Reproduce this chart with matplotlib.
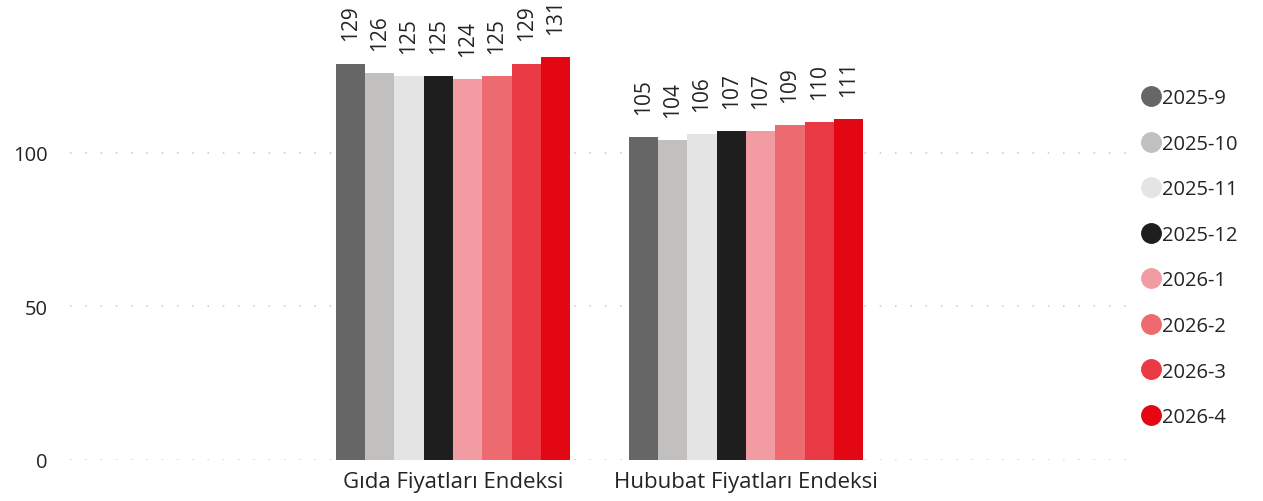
import matplotlib
matplotlib.use("Agg")
import matplotlib.pyplot as plt
from matplotlib.lines import Line2D
import numpy as np

plt.rcParams['font.family'] = ['Open Sans', 'DejaVu Sans']

categories = ["Gıda Fiyatları Endeksi", "Hububat Fiyatları Endeksi"]
series = ["2025-9", "2025-10", "2025-11", "2025-12", "2026-1", "2026-2", "2026-3", "2026-4"]
gida = [129, 126, 125, 125, 124, 125, 129, 131]
hububat = [105, 104, 106, 107, 107, 109, 110, 111]
colors = ["#666666", "#c1c0be", "#e4e4e4", "#1e1e1e", "#f39ba2", "#ec6a70", "#e83944", "#e30613"]

W, H = 1263, 502
fig = plt.figure(figsize=(W / 100, H / 100), dpi=100)
ax = fig.add_axes([70 / W, (H - 461) / H, (1135 - 70) / W, 461 / H])

x = np.arange(len(categories))
bw = 0.1
for i, s in enumerate(series):
    vals = [gida[i], hububat[i]]
    pos = x - 0.4 + bw / 2 + i * bw
    ax.bar(pos, vals, width=bw, color=colors[i], zorder=3)
    for p, v in zip(pos, vals):
        ax.text(p, v + 7.5, f"{v}", rotation=90, ha="center", va="bottom",
                fontsize=15, color="#252423")

ax.set_ylim(0, 150)
ax.set_xlim(-1.307, 2.328)
ax.set_yticks([0, 50, 100])
ax.set_xticks(x)
ax.set_xticklabels(categories, fontsize=16, color="#252423")
ax.tick_params(axis="y", labelsize=14.5, colors="#252423", length=0, pad=16)
ax.tick_params(axis="x", length=0, pad=8)
ax.grid(axis="y", color="#c8c8c8", linestyle=(0, (1, 9)), linewidth=1.1, zorder=0)
for sp in ax.spines.values():
    sp.set_visible(False)

handles = [Line2D([0], [0], marker="o", linestyle="none", markersize=14,
                  markerfacecolor=c, markeredgecolor=c) for c in colors]
leg = fig.legend(handles, series, loc="upper left", bbox_to_anchor=(1133 / W, 1 - 81 / H),
                 frameon=False, fontsize=14.5, handletextpad=0.05, labelspacing=1.27,
                 handlelength=1.0, borderaxespad=0)
for t in leg.get_texts():
    t.set_color("#252423")

fig.savefig("out.png", dpi=100)
